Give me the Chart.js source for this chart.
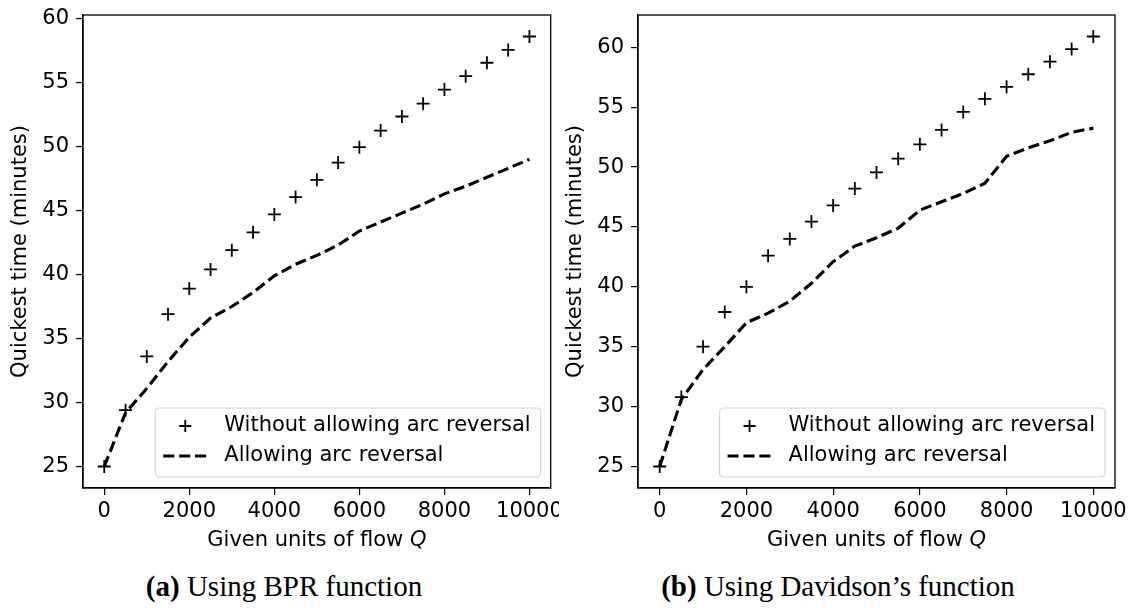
<!DOCTYPE html>
<html>
<head>
<meta charset="utf-8">
<script src="https://cdn.jsdelivr.net/npm/chart.js@4.4.1/dist/chart.umd.min.js"></script>
<style>
  body { margin: 0; background: #fff; width: 1137px; height: 608px; position: relative; overflow: hidden; }
  canvas { position: absolute; top: 0; }
  .caption {
    position: absolute; top: 570px;
    font-family: "Liberation Serif", "Times New Roman", serif;
    font-size: 29px; color: #000; white-space: nowrap;
    transform: translateX(-50%);
  }
</style>
</head>
<body>
<canvas id="bprChart" width="559" height="560" style="left:0"></canvas>
<canvas id="davChart" width="582" height="560" style="left:555px"></canvas>
<div class="caption" style="left:284px"><b>(a)</b> Using BPR function</div>
<div class="caption" style="left:838px"><b>(b)</b> Using Davidson’s function</div>

<script>
// flow values on the x axis
const flowQ = [0, 500, 1000, 1500, 2000, 2500, 3000, 3500, 4000, 4500, 5000,
               5500, 6000, 6500, 7000, 7500, 8000, 8500, 9000, 9500, 10000];

// quickest time (minutes), BPR cost function
const bprWithout  = [25, 29.4, 33.6, 36.9, 38.9, 40.4, 41.9, 43.3, 44.7, 46.05, 47.4,
                     48.75, 49.95, 51.25, 52.35, 53.35, 54.45, 55.5, 56.55, 57.55, 58.6];
const bprAllowing = [25, 29.2, 31.1, 33.2, 35.1, 36.6, 37.5, 38.6, 39.9, 40.8, 41.5,
                     42.3, 43.4, 44.1, 44.8, 45.5, 46.3, 46.9, 47.6, 48.3, 49.0];

// quickest time (minutes), Davidson's cost function
const davWithout  = [25, 30.8, 35.0, 37.9, 40.0, 42.6, 44.0, 45.45, 46.8, 48.2, 49.55,
                     50.7, 51.9, 53.1, 54.6, 55.7, 56.7, 57.75, 58.8, 59.85, 60.9];
const davAllowing = [25, 30.6, 33.1, 35.0, 37.0, 37.8, 38.8, 40.3, 42.1, 43.4, 44.1,
                     44.9, 46.4, 47.1, 47.8, 48.65, 50.9, 51.6, 52.2, 52.9, 53.25];

const xTicks = [0, 2000, 4000, 6000, 8000, 10000];
const yTicks = [25, 30, 35, 40, 45, 50, 55, 60];

const labelWithout  = "Without allowing arc reversal";
const labelAllowing = "Allowing arc reversal";
const yTitle = "Quickest time (minutes)";

const FONT = "DejaVu Sans";
const FS = 21;

// 5% padding around the data, like a default pyplot axis
function paddedRange(arrs) {
  const all = [].concat(...arrs);
  const lo = Math.min(...all), hi = Math.max(...all);
  const m = (hi - lo) * 0.05;
  return [lo - m, hi + m];
}

function toXY(ys) {
  return ys.map((y, i) => ({ x: flowQ[i], y: y }));
}

// full box around the plotting area
const frame = {
  id: "frame",
  afterDatasetsDraw(chart) {
    const { ctx, chartArea: a } = chart;
    ctx.save();
    ctx.strokeStyle = "#000";
    ctx.lineWidth = 1.3;
    ctx.strokeRect(a.left, a.top, a.right - a.left, a.bottom - a.top);
    ctx.restore();
  }
};

// x title with an italic Q
const flowTitle = {
  id: "flowTitle",
  afterDraw(chart) {
    const { ctx, chartArea: a } = chart;
    const base = "Given units of flow ";
    ctx.save();
    ctx.fillStyle = "#000";
    ctx.textBaseline = "middle";
    ctx.textAlign = "left";
    ctx.font = FS + "px \"" + FONT + "\"";
    const w1 = ctx.measureText(base).width;
    ctx.font = "italic " + FS + "px \"" + FONT + "\"";
    const w2 = ctx.measureText("Q").width;
    const x0 = (a.left + a.right) / 2 - (w1 + w2) / 2;
    const y = a.bottom + 53;
    ctx.font = FS + "px \"" + FONT + "\"";
    ctx.fillText(base, x0, y);
    ctx.font = "italic " + FS + "px \"" + FONT + "\"";
    ctx.fillText("Q", x0 + w1, y);
    ctx.restore();
  }
};

// legend box in the lower right corner of the axes
const insetLegend = {
  id: "insetLegend",
  afterDraw(chart) {
    const { ctx, chartArea: a } = chart;
    const sets = chart.data.datasets;
    ctx.save();
    ctx.font = FS + "px \"" + FONT + "\"";
    const textW = Math.max(...sets.map(d => ctx.measureText(d.label).width));
    const w = 69 + textW + 10, h = 69;
    const x = a.right - 10 - w, y = a.bottom - 11 - h;

    ctx.beginPath();
    ctx.roundRect(x, y, w, h, 4);
    ctx.fillStyle = "rgba(255,255,255,0.8)";
    ctx.fill();
    ctx.strokeStyle = "#d4d4d4";
    ctx.lineWidth = 1.2;
    ctx.stroke();

    sets.forEach((d, i) => {
      const cy = y + 18 + i * 30;
      ctx.strokeStyle = "#000";
      if (d.showLine === false) {
        ctx.lineWidth = d.pointBorderWidth;
        ctx.beginPath();
        ctx.moveTo(x + 30 - 6, cy); ctx.lineTo(x + 30 + 6, cy);
        ctx.moveTo(x + 30, cy - 6); ctx.lineTo(x + 30, cy + 6);
        ctx.stroke();
      } else {
        ctx.lineWidth = d.borderWidth;
        ctx.setLineDash(d.borderDash);
        ctx.beginPath();
        ctx.moveTo(x + 8, cy); ctx.lineTo(x + 51.5, cy);
        ctx.stroke();
        ctx.setLineDash([]);
      }
      ctx.fillStyle = "#000";
      ctx.textBaseline = "middle";
      ctx.fillText(d.label, x + 69, cy);
    });
    ctx.restore();
  }
};

function makeChart(id, without, allowing, padRight) {
  const [yMin, yMax] = paddedRange([without, allowing]);
  const tickFont = { family: FONT, size: FS };
  const axisGrid = {
    display: true, drawOnChartArea: false, drawTicks: true,
    tickLength: 7, color: "#000", lineWidth: 1.2
  };

  return new Chart(document.getElementById(id), {
    type: "line",
    data: {
      datasets: [
        {
          label: labelWithout,
          data: toXY(without),
          showLine: false,
          pointStyle: "cross",
          pointRadius: 6.5,
          pointBorderWidth: 1.8,
          pointBorderColor: "#000",
          borderColor: "#000"
        },
        {
          label: labelAllowing,
          data: toXY(allowing),
          borderColor: "#000",
          borderWidth: 3.1,
          borderDash: [11.1, 4.8],
          pointRadius: 0,
          tension: 0,
          fill: false
        }
      ]
    },
    options: {
      responsive: false,
      animation: false,
      devicePixelRatio: 1,
      layout: { padding: { top: 15, right: padRight, bottom: 0, left: 0 } },
      plugins: {
        legend: { display: false },
        tooltip: { enabled: false }
      },
      scales: {
        x: {
          type: "linear",
          min: -500,
          max: 10500,
          afterBuildTicks: ax => { ax.ticks = xTicks.map(v => ({ value: v })); },
          afterFit: ax => { ax.height = 72; ax.paddingLeft = 0; ax.paddingRight = 0; },
          grid: axisGrid,
          border: { display: true, color: "#000", width: 1.3 },
          ticks: {
            font: tickFont, color: "#000", padding: 4, maxRotation: 0, autoSkip: false,
            callback: v => String(v)
          }
        },
        y: {
          type: "linear",
          min: yMin,
          max: yMax,
          afterBuildTicks: ax => { ax.ticks = yTicks.map(v => ({ value: v })); },
          afterFit: ax => { ax.width = 83; ax.paddingTop = 0; ax.paddingBottom = 0; },
          grid: axisGrid,
          border: { display: true, color: "#000", width: 1.3 },
          ticks: { font: tickFont, color: "#000", padding: 7, autoSkip: false, callback: v => String(v) },
          title: {
            display: true, text: yTitle, color: "#000",
            font: { family: FONT, size: FS },
            padding: { top: 7.5, bottom: 0 }
          }
        }
      }
    },
    plugins: [frame, flowTitle, insetLegend]
  });
}

makeChart("bprChart", bprWithout, bprAllowing, 1);
makeChart("davChart", davWithout, davAllowing, 22);
</script>
</body>
</html>
